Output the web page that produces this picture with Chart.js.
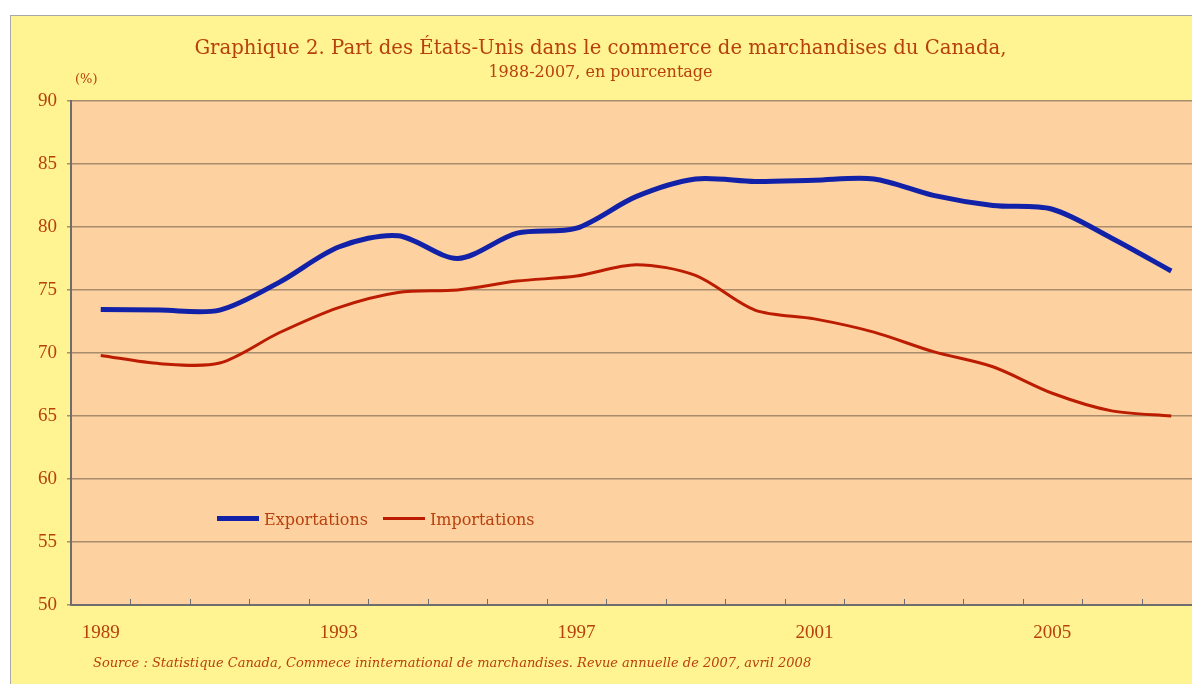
<!DOCTYPE html>
<html>
<head>
<meta charset="utf-8">
<script src="https://cdn.jsdelivr.net/npm/chart.js@4.4.0/dist/chart.umd.min.js"></script>
<style>
  html, body { margin: 0; padding: 0; background: #fff; overflow: hidden; width: 1192px; height: 684px; }
  .frame { position: absolute; left: 10px; top: 15px; width: 1300px; height: 700px; background: #fff392; border: 1px solid #a8a8a8; }
  #chart { position: absolute; left: 0; top: 0; }
  .unit { position: absolute; left: 75px; top: 71px; font: 13px "DejaVu Serif", serif; color: #b8400c; }
  .legend { position: absolute; left: 217px; top: 510px; font: 16px "DejaVu Serif", serif; color: #b8400c; white-space: nowrap; }
  .legend span.item { display: inline-block; margin-right: 15px; }
  .legend i { display: inline-block; width: 42px; vertical-align: middle; margin-right: 5px; position: relative; top: -2px; }
  .source { position: absolute; left: 93px; top: 655px; font: italic 13px "DejaVu Serif", serif; color: #b8400c; white-space: nowrap; }
</style>
</head>
<body>
<div class="frame"></div>
<canvas id="chart" width="1215" height="684"></canvas>
<div class="unit">(%)</div>
<div class="legend" id="legend"></div>
<div class="source">Source : Statistique Canada, Commece ininternational de marchandises. Revue annuelle de 2007, avril 2008</div>
<script>
// données
var years = ['1989', '1990', '1991', '1992', '1993', '1994', '1995', '1996', '1997', '1998',
             '1999', '2000', '2001', '2002', '2003', '2004', '2005', '2006', '2007'];
var exportations = [73.45, 73.4, 73.4, 75.6, 78.4, 79.3, 77.5, 79.5, 79.9, 82.4,
                    83.8, 83.6, 83.7, 83.8, 82.5, 81.7, 81.4, 79.1, 76.5];
var importations = [69.8, 69.15, 69.2, 71.6, 73.6, 74.8, 75.0, 75.7, 76.1, 77.0,
                    76.15, 73.4, 72.7, 71.65, 70.1, 68.9, 66.8, 65.4, 65.0];
var yTicks = [50, 55, 60, 65, 70, 75, 80, 85, 90];

var textColor = '#b8400c';
var gridColor = '#a88c6c';
var axisColor = '#6e6e6e';

// fond de la zone de tracé + petites graduations intérieures sur l'axe x
var plotBg = {
  id: 'plotBg',
  beforeDraw: function(chart) {
    var a = chart.chartArea, c = chart.ctx;
    c.save();
    c.fillStyle = '#fdd1a0';
    c.fillRect(a.left, a.top, a.right - a.left, a.bottom - a.top);
    c.restore();
  },
  afterDraw: function(chart) {
    var xs = chart.scales.x, a = chart.chartArea, c = chart.ctx;
    var half = (xs.getPixelForValue(1) - xs.getPixelForValue(0)) / 2;
    c.save();
    c.strokeStyle = axisColor;
    c.lineWidth = 1;
    for (var i = 1; i <= years.length; i++) {
      var x = Math.round(xs.getPixelForValue(i) - half) + 0.5;
      c.beginPath();
      c.moveTo(x, a.bottom - 6);
      c.lineTo(x, a.bottom);
      c.stroke();
    }
    c.restore();
  }
};

var ctx = document.getElementById('chart').getContext('2d');
var chart = new Chart(ctx, {
  type: 'line',
  data: {
    labels: years,
    datasets: [{
      label: 'Exportations',
      data: exportations,
      borderColor: '#1222a8',
      borderWidth: 5,
      pointRadius: 0,
      tension: 0.3,
      fill: false
    }, {
      label: 'Importations',
      data: importations,
      borderColor: '#bb1c02',
      borderWidth: 3,
      pointRadius: 0,
      tension: 0.3,
      fill: false
    }]
  },
  options: {
    responsive: false,
    animation: false,
    layout: { padding: { top: 37, right: 14, bottom: 0, left: 0 } },
    plugins: {
      legend: { display: false },
      tooltip: { enabled: false },
      title: {
        display: true,
        text: 'Graphique 2. Part des États-Unis dans le commerce de marchandises du Canada,',
        color: textColor,
        font: { family: 'DejaVu Serif', size: 19.7, weight: 'normal' },
        padding: { top: 0, bottom: 3 }
      },
      subtitle: {
        display: true,
        text: '1988-2007, en pourcentage',
        color: textColor,
        font: { family: 'DejaVu Serif', size: 16, weight: 'normal' },
        padding: { top: 0, bottom: 18 }
      }
    },
    scales: {
      x: {
        type: 'category',
        offset: true,
        grid: { display: false },
        border: { display: true, color: axisColor, width: 2 },
        ticks: {
          autoSkip: false,
          maxRotation: 0,
          padding: 9,
          color: textColor,
          font: { family: 'Liberation Serif', size: 19 },
          callback: function(v, i) { return (i % 4 === 0) ? years[i] : ''; }
        },
        afterFit: function(s) { s.height = 79; }
      },
      y: {
        min: 50,
        max: 90,
        afterBuildTicks: function(s) { s.ticks = yTicks.map(function(v) { return { value: v }; }); },
        grid: { color: gridColor, lineWidth: 1.5, tickLength: 4 },
        border: { display: true, color: axisColor, width: 2 },
        ticks: {
          padding: 10,
          color: textColor,
          font: { family: 'Liberation Serif', size: 19 }
        },
        afterFit: function(s) { s.width = 71; }
      }
    }
  },
  plugins: [plotBg]
});

// légende HTML construite à partir des séries
var leg = document.getElementById('legend');
chart.data.datasets.forEach(function(ds) {
  var item = document.createElement('span');
  item.className = 'item';
  var sw = document.createElement('i');
  sw.style.borderTop = ds.borderWidth + 'px solid ' + ds.borderColor;
  item.appendChild(sw);
  item.appendChild(document.createTextNode(ds.label));
  leg.appendChild(item);
});
</script>
</body>
</html>
